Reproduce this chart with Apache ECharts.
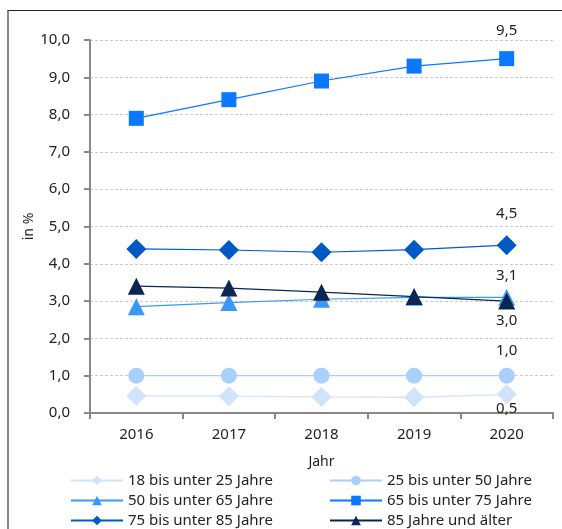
<!DOCTYPE html>
<html>
<head>
<meta charset="utf-8">
<script src="https://cdn.jsdelivr.net/npm/echarts@6/dist/echarts.min.js"></script>
<style>
  html, body { margin: 0; padding: 0; background: #fff; }
  #frame { position: absolute; left: 7px; top: 10px; width: 555px; height: 519px;
           border-top: 1.5px solid #222; border-left: 2px solid #888; }
  #chart { position: absolute; left: 0; top: 0; width: 562px; height: 529px; }
</style>
</head>
<body>
<div id="frame"></div>
<div id="chart"></div>
<script>
// Jahre
const years = ['2016', '2017', '2018', '2019', '2020'];

// Anteile in % je Altersgruppe
const age18to25 = [0.46, 0.45, 0.43, 0.42, 0.5];
const age25to50 = [1.0, 1.0, 1.0, 1.0, 1.0];
const age50to65 = [2.85, 2.96, 3.05, 3.1, 3.1];
const age65to75 = [7.9, 8.4, 8.9, 9.3, 9.5];
const age75to85 = [4.4, 4.37, 4.31, 4.38, 4.5];
const age85plus = [3.4, 3.35, 3.24, 3.12, 3.0];

const fmt = v => (Math.round(v * 10) / 10).toFixed(1).replace('.', ',');
const font = '"Noto Sans", Lato, sans-serif';

// Wert nur am letzten Punkt beschriften
function withLastLabel(values, pos, dist) {
  return values.map((v, i) => i === values.length - 1
    ? { value: v, label: { show: true, position: pos, distance: dist,
        formatter: p => fmt(p.value), color: '#222', fontSize: 15, fontFamily: font } }
    : v);
}

function mkSeries(name, values, color, symbol, size, labelPos, dist) {
  return {
    name: name,
    type: 'line',
    data: withLastLabel(values, labelPos, dist),
    symbol: symbol,
    symbolSize: size,
    lineStyle: { color: color, width: 1.2 },
    itemStyle: { color: color },
    emphasis: { disabled: true },
    z: 3
  };
}

// Legende: zwei Spalten, drei Zeilen
const legendCols = [
  ['18 bis unter 25 Jahre', '50 bis unter 65 Jahre', '75 bis unter 85 Jahre'],
  ['25 bis unter 50 Jahre', '65 bis unter 75 Jahre', '85 Jahre und älter']
];
const legends = [];
legendCols.forEach((col, c) => {
  col.forEach((name, r) => {
    legends.push({
      left: c === 0 ? 70 : 329, top: 473 + r * 20,
      itemWidth: 52, itemHeight: 12, itemGap: 0, padding: 0,
      textStyle: { color: '#222', fontSize: 15 },
      data: [name]
    });
  });
});

const chart = echarts.init(document.getElementById('chart'));
chart.setOption({
  animation: false,
  textStyle: { fontFamily: font },
  grid: { left: 90, top: 40, right: 9, bottom: 116 },
  xAxis: {
    type: 'category',
    data: years,
    name: 'Jahr',
    nameLocation: 'middle',
    nameGap: 42,
    nameTextStyle: { color: '#222', fontSize: 14 },
    axisLine: { lineStyle: { color: '#888', width: 2 } },
    axisTick: { show: true, length: 6, lineStyle: { color: '#888', width: 2 } },
    axisLabel: { color: '#222', fontSize: 15, margin: 14 }
  },
  yAxis: {
    type: 'value',
    min: 0, max: 10, interval: 1,
    name: 'in %',
    nameLocation: 'middle',
    nameGap: 54,
    nameMoveOverlap: false,
    nameTextStyle: { color: '#222', fontSize: 14 },
    axisLine: { show: true, lineStyle: { color: '#888', width: 2 } },
    axisTick: { show: true, length: 6, lineStyle: { color: '#888', width: 2 } },
    axisLabel: { color: '#222', fontSize: 15, margin: 20, formatter: v => fmt(v) },
    splitLine: { lineStyle: { color: '#ccc', type: [3, 2] } }
  },
  legend: legends,
  series: [
    mkSeries('18 bis unter 25 Jahre', age18to25, '#cfe3fb', 'diamond', 20, 'bottom', -3),
    mkSeries('25 bis unter 50 Jahre', age25to50, '#a9d0fa', 'circle', 16, 'top', 9),
    mkSeries('50 bis unter 65 Jahre', age50to65, '#3a99f8', 'triangle', 17, 'top', 6),
    mkSeries('65 bis unter 75 Jahre', age65to75, '#0a78ff', 'rect', 15, 'top', 13),
    mkSeries('75 bis unter 85 Jahre', age75to85, '#0059c4', 'diamond', 20, 'top', 14),
    mkSeries('85 Jahre und älter', age85plus, '#0b2650', 'triangle', 17, 'bottom', 4)
  ]
});
</script>
</body>
</html>
